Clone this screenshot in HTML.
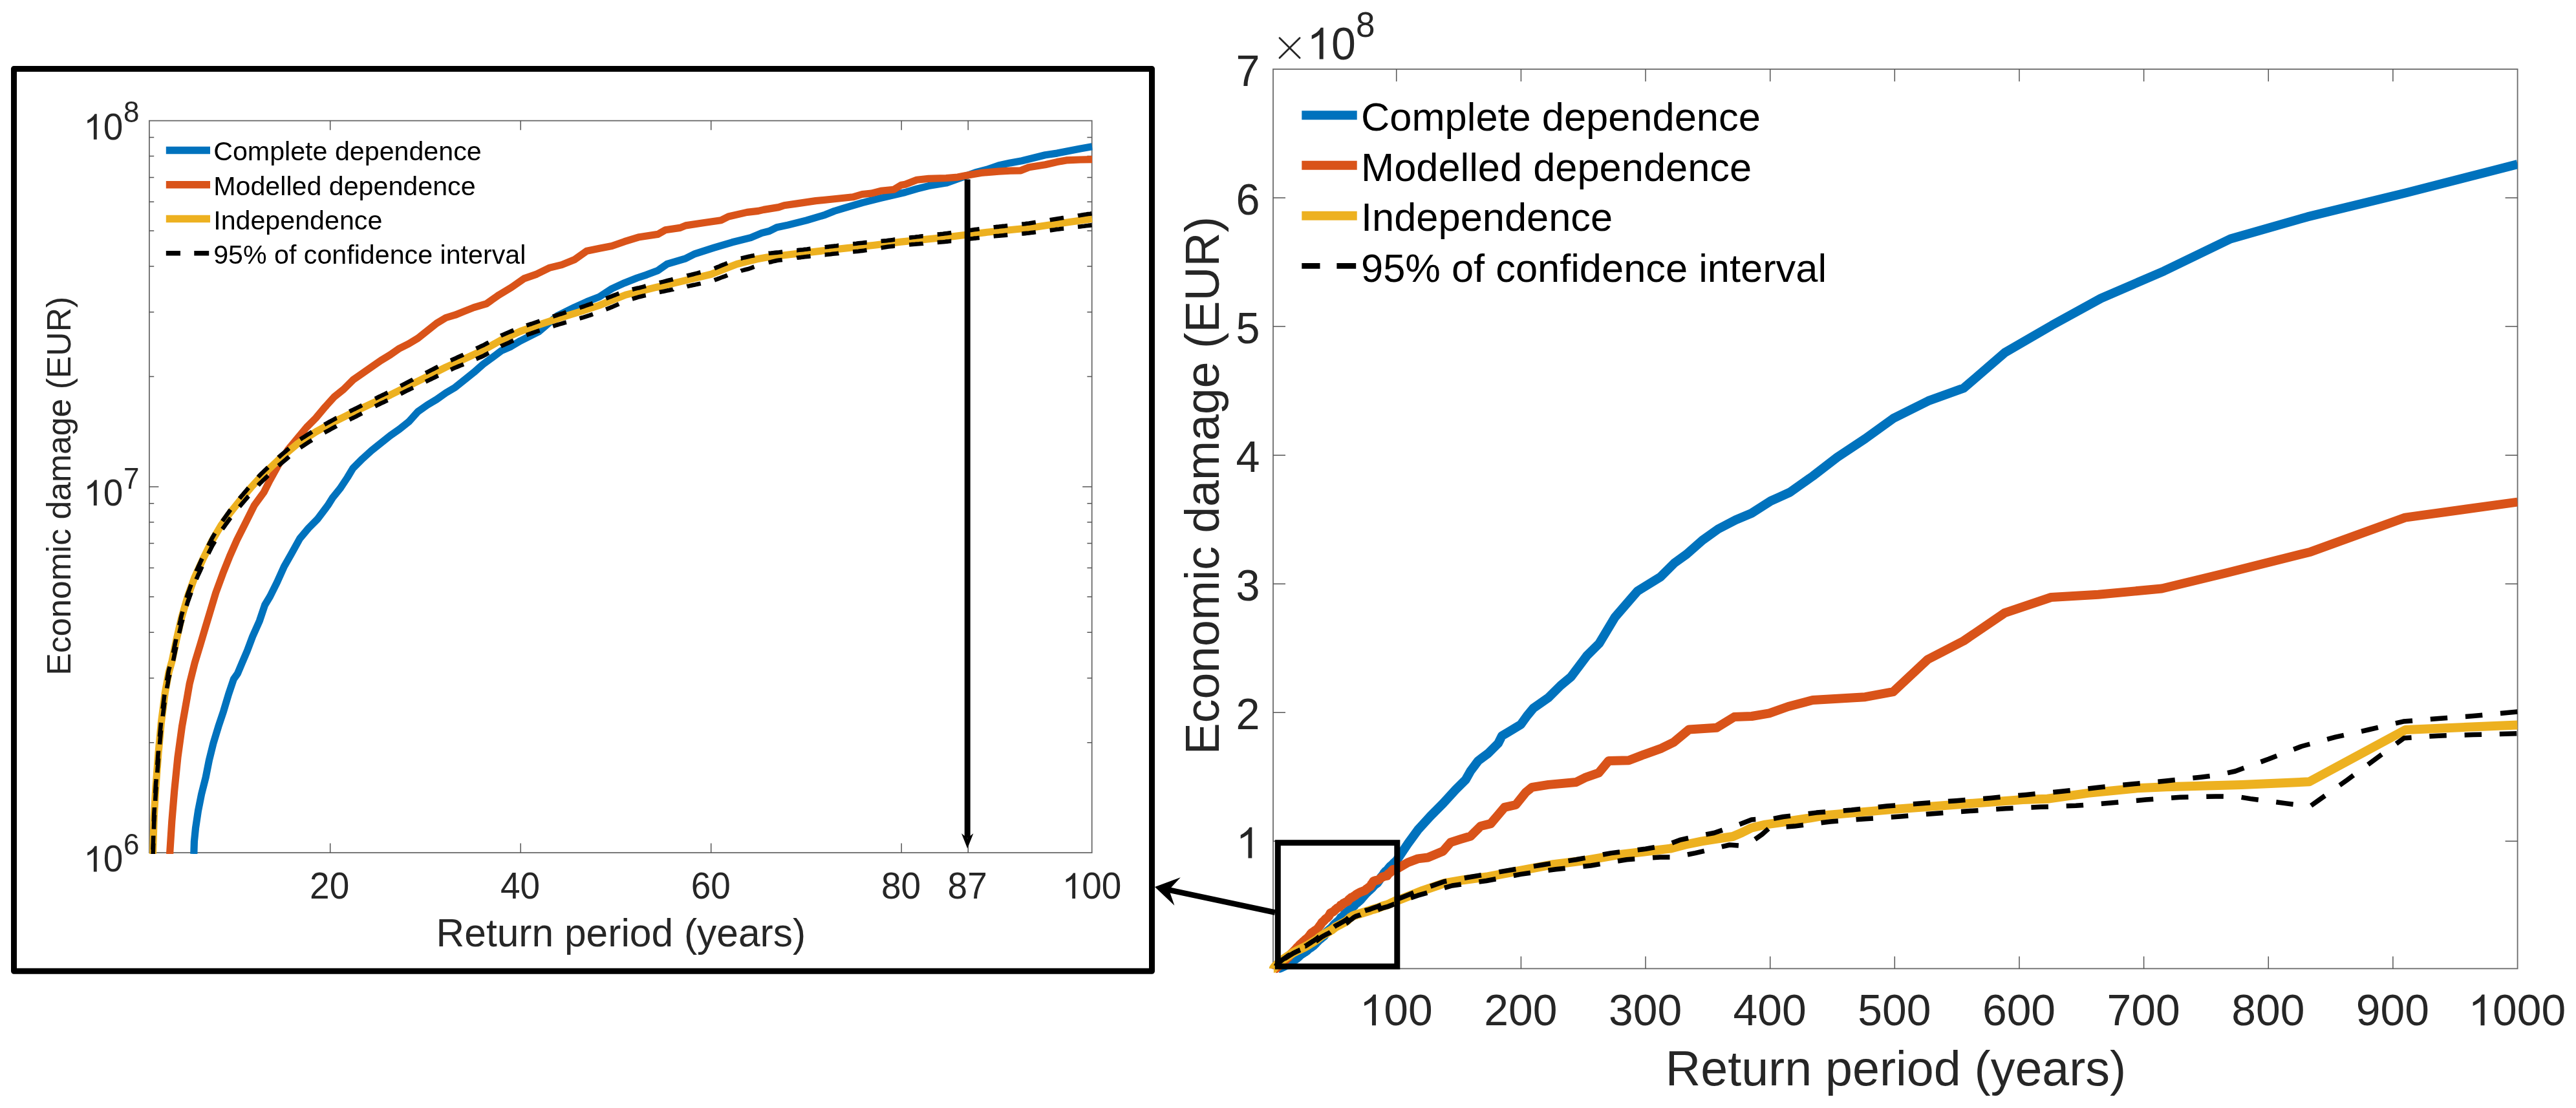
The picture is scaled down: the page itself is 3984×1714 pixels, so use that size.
<!DOCTYPE html><html><head><meta charset="utf-8"><title>Figure</title>
<style>html,body{margin:0;padding:0;background:#fff}svg{display:block;will-change:transform}text{font-family:"Liberation Sans",sans-serif}</style></head><body>
<svg width="3984" height="1714" viewBox="0 0 3984 1714">
<rect width="3984" height="1714" fill="#fff"/>
<defs><clipPath id="cl"><rect x="230.9" y="184.7" width="1458.8" height="1136.4"/></clipPath>
<clipPath id="cr"><rect x="1957.0" y="107.0" width="1936.6" height="1403.4"/></clipPath></defs>
<rect x="21.5" y="106.5" width="1760" height="1395.8" fill="none" stroke="#000" stroke-width="9" stroke-linejoin="round"/>
<g fill="none">
<rect x="230.9" y="186.7" width="1457.8" height="1132.4" stroke="#6a6a6a" stroke-width="1.8"/>
<path d="M510.7 1319.1v-14.5M510.7 186.7v14.5M805.2 1319.1v-14.5M805.2 186.7v14.5M1099.7 1319.1v-14.5M1099.7 186.7v14.5M1394.2 1319.1v-14.5M1394.2 186.7v14.5M1497.3 1319.1v-14.5M1497.3 186.7v14.5M230.9 1148.7h7.3M1688.7 1148.7h-7.3M230.9 1049.0h7.3M1688.7 1049.0h-7.3M230.9 978.2h7.3M1688.7 978.2h-7.3M230.9 923.3h7.3M1688.7 923.3h-7.3M230.9 878.5h7.3M1688.7 878.5h-7.3M230.9 840.6h7.3M1688.7 840.6h-7.3M230.9 807.8h7.3M1688.7 807.8h-7.3M230.9 778.8h7.3M1688.7 778.8h-7.3M230.9 752.9h14.5M1688.7 752.9h-14.5M230.9 582.5h7.3M1688.7 582.5h-7.3M230.9 482.8h7.3M1688.7 482.8h-7.3M230.9 412.0h7.3M1688.7 412.0h-7.3M230.9 357.1h7.3M1688.7 357.1h-7.3M230.9 312.3h7.3M1688.7 312.3h-7.3M230.9 274.4h7.3M1688.7 274.4h-7.3M230.9 241.6h7.3M1688.7 241.6h-7.3M230.9 212.6h7.3M1688.7 212.6h-7.3" stroke="#555555" stroke-width="1.5"/>
</g>
<g clip-path="url(#cl)" fill="none" stroke-linejoin="round">
<path d="M299.8 1321.0 L300.4 1301.8 L302.5 1280.9 L306.4 1254.7 L311.6 1228.5 L318.2 1202.3 L323.4 1176.1 L329.9 1149.9 L337.8 1123.8 L345.7 1100.2 L353.5 1074.0 L361.4 1050.5 L367.6 1041.7 L374.4 1025.4 L382.5 1006.4 L390.6 984.8 L401.4 960.4 L409.6 936.0 L417.7 922.5 L428.5 900.8 L439.4 876.5 L450.2 857.5 L463.7 833.1 L477.3 816.9 L490.8 803.3 L507.1 781.7 L514.4 770.1 L525.9 755.8 L537.4 738.5 L546.0 724.2 L560.4 709.8 L574.7 696.9 L589.1 685.4 L603.5 673.9 L617.8 663.9 L632.2 652.4 L646.5 636.6 L660.9 626.5 L675.3 617.9 L689.6 607.8 L704.0 599.2 L718.4 587.7 L732.7 576.2 L747.1 563.5 L761.5 553.0 L775.8 542.3 L790.2 536.0 L804.5 527.4 L833.3 513.0 L862.0 488.6 L888.2 475.6 L907.6 466.8 L927.0 459.1 L946.4 446.5 L965.8 437.7 L985.2 430.0 L1000.0 425.1 L1017.5 418.4 L1031.8 408.4 L1060.5 399.8 L1074.9 392.6 L1103.6 383.4 L1132.4 374.8 L1161.1 367.6 L1178.3 360.4 L1189.8 357.5 L1201.3 351.8 L1218.5 348.1 L1247.3 340.9 L1276.0 332.3 L1290.4 326.5 L1304.7 322.2 L1333.5 313.6 L1362.2 306.4 L1400.0 297.5 L1418.0 292.1 L1436.1 287.6 L1463.2 283.1 L1481.2 276.8 L1508.3 266.9 L1526.4 262.3 L1544.4 256.0 L1562.5 251.9 L1580.5 248.8 L1598.6 244.3 L1616.6 239.8 L1634.7 237.1 L1652.7 233.5 L1670.8 229.9 L1689.0 226.8" stroke="#0072BD" stroke-width="11.2"/>
<path d="M262.7 1321.0 L262.7 1318.8 L265.8 1270.4 L269.7 1223.2 L275.0 1170.9 L281.5 1123.8 L289.4 1079.3 L293.1 1057.9 L301.2 1025.4 L309.4 998.3 L317.5 971.2 L325.6 944.2 L333.7 917.1 L344.6 887.3 L355.4 860.2 L366.2 835.8 L379.8 808.7 L393.3 781.7 L408.1 761.5 L416.7 744.3 L431.1 718.4 L445.5 695.5 L459.8 678.2 L474.2 661.0 L488.5 646.6 L502.9 629.4 L517.3 613.6 L531.6 602.1 L546.0 587.7 L560.4 577.7 L574.7 567.6 L589.1 557.6 L603.5 548.9 L617.8 538.9 L632.2 531.7 L646.5 523.1 L660.9 511.6 L675.3 500.1 L689.6 491.5 L704.0 487.2 L718.4 481.4 L732.9 475.6 L752.3 469.8 L771.7 456.2 L791.1 444.5 L810.6 430.9 L830.0 424.1 L849.4 414.4 L868.8 409.6 L888.2 401.8 L907.6 388.2 L927.0 384.3 L946.4 380.5 L965.8 373.7 L988.7 366.7 L1017.5 362.4 L1028.9 355.8 L1051.9 352.4 L1060.5 348.9 L1089.3 344.5 L1115.1 340.7 L1126.6 335.0 L1155.3 328.4 L1172.6 326.4 L1181.2 324.4 L1204.2 320.6 L1212.8 317.8 L1232.9 314.9 L1261.6 310.6 L1290.4 307.7 L1319.1 304.8 L1333.5 300.5 L1347.8 299.1 L1362.2 295.3 L1382.3 293.3 L1393.8 286.2 L1400.0 285.3 L1418.0 278.2 L1436.1 276.4 L1463.2 275.5 L1481.2 274.1 L1493.9 271.4 L1517.3 267.4 L1544.4 265.1 L1562.5 264.2 L1578.7 263.8 L1591.3 258.7 L1616.6 254.8 L1634.7 250.6 L1649.1 247.9 L1670.8 247.0 L1689.0 246.6" stroke="#D95319" stroke-width="11.2"/>
<path d="M236.3 1336.0 L236.5 1321.0 L236.5 1318.8 L238.3 1262.5 L240.9 1218.0 L244.9 1165.7 L249.3 1118.5 L255.3 1071.4 L261.1 1040.0 L266.0 1022.7 L272.8 990.2 L280.9 955.0 L290.4 922.5 L301.2 892.7 L314.8 862.9 L328.3 835.8 L341.9 812.8 L355.4 793.9 L371.7 773.5 L388.0 754.3 L402.4 738.5 L431.1 711.1 L459.8 686.7 L488.5 668.0 L517.3 652.2 L546.0 637.9 L574.7 624.2 L603.5 611.1 L632.2 596.8 L660.9 582.4 L689.6 568.0 L718.4 555.1 L747.1 541.9 L775.8 525.6 L804.5 512.6 L833.3 502.5 L862.0 493.0 L899.3 481.5 L927.1 472.2 L967.7 456.1 L1012.8 444.9 L1053.4 435.4 L1100.0 424.2 L1124.2 414.5 L1139.8 408.5 L1155.3 404.5 L1170.8 400.7 L1186.3 398.0 L1223.2 393.5 L1266.6 388.6 L1308.9 383.9 L1352.3 379.2 L1393.3 374.1 L1461.4 367.3 L1526.4 359.2 L1591.3 352.7 L1634.7 346.2 L1689.0 338.5" stroke="#EDB120" stroke-width="11.2"/>
<path d="M236.5 1314.4 L236.6 1312.0 L236.7 1308.8 L236.8 1305.7 L236.9 1302.6 L237.0 1299.5 L237.1 1296.3 L237.2 1293.2 L237.2 1292.7M237.9 1270.6 L238.0 1268.2 L238.1 1265.0 L238.2 1261.9 L238.3 1258.8 L238.5 1255.6 L238.7 1252.4 L238.9 1249.3 L238.9 1248.9M240.2 1226.9 L240.3 1223.8 L240.5 1220.6 L240.7 1217.5 L240.9 1214.3 L241.1 1211.2 L241.4 1208.1 L241.6 1205.2M243.3 1183.2 L243.5 1180.4 L243.7 1177.4 L244.0 1174.3 L244.2 1171.2 L244.4 1168.1 L244.7 1165.1 L244.9 1162.0 L244.9 1161.5M247.0 1139.5 L247.2 1136.8 L247.5 1133.7 L247.8 1130.5 L248.1 1127.4 L248.4 1124.2 L248.7 1121.1 L249.0 1117.9M251.7 1096.0 L251.7 1095.9 L252.1 1092.8 L252.5 1089.6 L252.9 1086.5 L253.3 1083.4 L253.7 1080.2 L254.1 1077.1 L254.4 1074.5M258.1 1052.7 L258.2 1052.0 L258.8 1048.8 L259.4 1045.7 L259.9 1042.5 L260.5 1039.4 L261.1 1036.3 L262.1 1032.8 L262.5 1031.4M267.9 1010.0 L268.5 1007.1 L269.1 1004.2 L269.7 1001.2 L270.3 998.3 L270.9 995.3 L271.6 992.3 L272.2 989.4 L272.3 988.7M277.2 967.2 L277.5 965.9 L278.2 963.0 L278.9 960.0 L279.5 957.1 L280.2 954.2 L280.9 951.2 L281.8 948.3 L282.4 946.1M288.6 924.9 L288.7 924.6 L289.5 921.7 L290.4 918.7 L291.5 915.7 L292.6 912.8 L293.6 909.8 L294.7 906.8 L295.6 904.4M303.6 883.7 L303.9 882.9 L305.3 880.0 L306.6 877.0 L308.0 874.0 L309.4 871.0 L310.7 868.0 L312.1 865.0 L312.6 864.0M322.3 844.1 L322.9 842.8 L324.2 840.1 L325.6 837.4 L326.9 834.7 L328.3 832.0 L330.0 829.1 L331.7 826.2 L332.4 825.0M343.9 806.1 L345.8 803.5 L347.7 800.8 L349.6 798.1 L351.5 795.4 L353.5 792.7 L355.4 790.0 L356.6 788.5M370.4 771.2 L371.7 769.6 L373.7 767.2 L375.8 764.8 L377.8 762.4 L379.9 760.0 L381.9 757.6 L383.9 755.2 L384.4 754.6M399.2 738.1 L400.3 736.8 L402.4 734.6 L404.6 732.4 L406.8 730.3 L409.0 728.2 L411.2 726.1 L413.4 724.0 L414.6 722.9M430.6 707.6 L431.1 707.1 L433.5 705.1 L435.9 703.0 L438.3 701.0 L440.7 699.0 L443.1 696.9 L445.5 694.9 L447.1 693.5M464.4 679.7 L465.0 679.3 L467.6 677.6 L470.2 675.9 L472.8 674.2 L475.5 672.5 L478.1 670.9 L480.7 669.2 L482.6 667.9M501.7 656.9 L502.9 656.2 L505.8 654.6 L508.7 653.0 L511.5 651.5 L514.4 649.9 L517.3 648.3 L520.2 646.8 L520.8 646.6M540.5 636.6 L543.1 635.3 L546.0 633.9 L548.9 632.5 L551.7 631.1 L554.6 629.6 L557.5 628.2 L559.9 626.9M580.1 616.8 L580.5 616.6 L583.3 615.2 L586.2 613.8 L589.1 612.4 L592.0 611.0 L594.9 609.6 L597.7 608.2 L599.6 607.3M619.5 597.1 L620.7 596.4 L623.6 594.9 L626.5 593.4 L629.3 591.9 L632.2 590.4 L635.1 588.9 L637.9 587.5 L638.7 587.0M658.2 577.0 L660.9 575.6 L663.8 574.1 L666.6 572.6 L669.5 571.2 L672.4 569.7 L675.2 568.3 L677.5 567.1M697.0 557.6 L698.2 557.1 L701.1 555.8 L704.0 554.5 L706.9 553.1 L709.8 551.8 L712.6 550.5 L715.5 549.2 L716.7 548.6M736.4 539.3 L738.5 538.3 L741.4 536.9 L744.2 535.6 L747.1 534.3 L749.7 532.9 L752.3 531.5 L754.9 530.1 L755.8 529.6M774.5 519.4 L775.8 518.7 L778.7 517.5 L781.5 516.3 L784.4 515.0 L787.3 513.8 L790.1 512.6 L793.0 511.4 L794.4 510.8M814.2 503.4 L816.0 502.8 L818.9 501.9 L821.8 501.0 L824.7 500.0 L827.5 499.0 L830.4 498.0 L833.3 497.0 L834.7 496.5M855.1 489.6 L856.3 489.2 L859.1 488.3 L862.0 487.3 L864.9 486.4 L867.7 485.5 L870.6 484.6 L873.5 483.6 L875.7 482.9M896.4 476.1 L896.4 476.1 L899.3 475.2 L902.4 474.1 L905.5 473.0 L908.6 471.9 L911.7 470.9 L914.7 469.9 L916.9 469.1M937.2 461.8 L938.7 461.2 L941.6 460.0 L944.5 458.9 L947.4 457.7 L950.3 456.6 L953.2 455.5 L956.1 454.4 L957.4 453.9M977.8 447.7 L979.7 447.2 L982.7 446.5 L985.7 445.8 L988.7 445.2 L991.8 444.4 L994.8 443.6 L997.8 442.8 L998.9 442.5M1019.8 437.2 L1022.2 436.6 L1025.3 435.9 L1028.4 435.1 L1031.5 434.3 L1034.7 433.5 L1037.8 432.8 L1040.9 432.0M1062.4 426.6 L1062.7 426.5 L1065.8 425.7 L1068.9 425.0 L1072.0 424.2 L1075.1 423.4 L1078.3 422.6 L1081.4 421.8 L1083.5 421.3M1104.8 415.2 L1106.0 414.7 L1109.1 413.4 L1112.1 412.2 L1115.1 410.9 L1118.2 409.7 L1121.2 408.5 L1124.2 407.2 L1124.9 406.9M1145.8 399.7 L1146.0 399.7 L1149.1 398.9 L1152.2 398.2 L1155.3 397.5 L1158.4 396.8 L1161.5 396.1 L1164.6 395.5 L1166.9 395.0M1188.6 391.8 L1189.4 391.7 L1192.5 391.5 L1195.5 391.2 L1198.6 390.9 L1201.7 390.6 L1204.8 390.3 L1207.8 389.9 L1210.2 389.7M1232.1 387.2 L1232.5 387.2 L1235.6 386.8 L1238.7 386.5 L1241.8 386.2 L1244.9 385.8 L1248.0 385.5 L1251.1 385.1 L1253.6 384.8M1275.6 382.3 L1275.7 382.3 L1278.7 381.9 L1281.7 381.6 L1284.7 381.2 L1287.8 380.9 L1290.8 380.5 L1293.8 380.2 L1296.8 379.8 L1297.1 379.8M1319.1 377.2 L1321.3 377.0 L1324.4 376.7 L1327.5 376.3 L1330.6 376.0 L1333.7 375.7 L1336.8 375.4 L1339.9 375.1 L1340.7 375.1M1362.6 373.0 L1364.9 372.8 L1368.1 372.5 L1371.2 372.2 L1374.4 371.8 L1377.5 371.4 L1380.7 371.0 L1383.8 370.5 L1384.2 370.5M1406.1 367.7 L1408.8 367.4 L1411.9 367.0 L1415.0 366.7 L1418.1 366.3 L1421.2 366.0 L1424.3 365.6 L1427.3 365.2 L1427.7 365.2M1449.7 362.6 L1452.1 362.4 L1455.2 362.0 L1458.3 361.7 L1461.4 361.3 L1464.5 360.9 L1467.6 360.5 L1470.7 360.1 L1471.3 360.0M1493.2 357.0 L1495.4 356.7 L1498.5 356.3 L1501.6 355.9 L1504.7 355.5 L1507.8 355.1 L1510.9 354.7 L1514.0 354.3 L1514.7 354.2M1536.7 351.5 L1538.8 351.2 L1541.9 350.9 L1544.9 350.6 L1548.0 350.2 L1551.1 349.9 L1554.2 349.6 L1557.3 349.2 L1558.3 349.1M1580.3 346.7 L1582.0 346.5 L1585.1 346.2 L1588.2 345.8 L1591.3 345.5 L1594.4 345.0 L1597.5 344.5 L1600.6 344.0 L1601.8 343.8M1623.7 340.3 L1625.4 340.0 L1628.5 339.5 L1631.6 339.0 L1634.7 338.5 L1637.7 338.0 L1640.7 337.6 L1643.8 337.1 L1645.1 336.9M1667.0 333.6 L1667.9 333.4 L1670.9 333.0 L1673.9 332.5 L1676.9 332.0 L1680.0 331.6 L1683.0 331.1 L1686.0 330.7 L1688.5 330.3M1689.0 330.2 L1689.0 330.2" stroke="#000" stroke-width="6.6"/>
<path d="M236.5 1326.4 L236.6 1324.0 L236.7 1320.9 L236.8 1317.7 L236.9 1314.6 L237.0 1311.5 L237.1 1308.4 L237.2 1305.2 L237.2 1304.7M237.9 1282.6 L238.0 1280.2 L238.1 1277.1 L238.2 1274.0 L238.3 1270.8 L238.5 1267.6 L238.7 1264.5 L238.9 1261.3 L238.9 1261.0M240.2 1238.9 L240.3 1235.9 L240.5 1232.7 L240.7 1229.5 L240.9 1226.3 L241.1 1223.3 L241.4 1220.2 L241.6 1217.3M243.3 1195.2 L243.5 1192.5 L243.7 1189.4 L244.0 1186.4 L244.2 1183.3 L244.4 1180.2 L244.7 1177.1 L244.9 1174.0 L244.9 1173.6M247.0 1151.6 L247.2 1148.9 L247.5 1145.7 L247.8 1142.6 L248.1 1139.4 L248.4 1136.3 L248.7 1133.2 L249.0 1130.0 L249.0 1130.0M251.7 1108.1 L251.7 1108.0 L252.1 1104.9 L252.5 1101.8 L252.9 1098.6 L253.3 1095.5 L253.7 1092.3 L254.1 1089.2 L254.4 1086.6M258.1 1064.8 L258.2 1064.1 L258.8 1061.0 L259.4 1057.8 L259.9 1054.7 L260.5 1051.5 L261.1 1048.4 L262.1 1044.9 L262.5 1043.6M267.9 1022.2 L268.5 1019.3 L269.1 1016.4 L269.7 1013.4 L270.3 1010.5 L270.9 1007.5 L271.6 1004.5 L272.2 1001.6 L272.3 1000.9M277.2 979.4 L277.5 978.1 L278.2 975.2 L278.9 972.3 L279.5 969.3 L280.2 966.4 L280.9 963.5 L281.8 960.5 L282.4 958.3M288.6 937.2 L288.7 936.9 L289.5 934.0 L290.4 931.0 L291.5 928.0 L292.6 925.0 L293.6 922.1 L294.7 919.1 L295.6 916.6M303.6 896.1 L303.9 895.3 L305.3 892.3 L306.6 889.3 L308.0 886.4 L309.4 883.4 L310.7 880.4 L312.1 877.4 L312.6 876.3M322.3 856.5 L322.9 855.2 L324.2 852.5 L325.6 849.8 L326.9 847.1 L328.3 844.4 L330.0 841.6 L331.7 838.7 L332.5 837.4M343.9 818.6 L345.8 816.1 L347.7 813.4 L349.6 810.7 L351.5 808.0 L353.5 805.3 L355.4 802.6 L356.7 801.0M370.4 783.8 L371.7 782.3 L373.7 779.9 L375.8 777.5 L377.8 775.1 L379.9 772.7 L381.9 770.3 L383.9 767.9 L384.5 767.3M399.2 750.9 L400.3 749.6 L402.4 747.4 L404.6 745.3 L406.8 743.2 L409.0 741.1 L411.2 739.0 L413.4 736.9 L414.7 735.7M430.6 720.5 L431.1 720.1 L433.5 718.0 L435.9 716.0 L438.3 714.0 L440.7 712.0 L443.1 709.9 L445.5 707.9 L447.1 706.4M464.4 692.6 L465.0 692.2 L467.6 690.4 L470.2 688.7 L472.8 687.0 L475.5 685.3 L478.1 683.6 L480.7 681.9 L482.5 680.7M501.7 669.4 L502.9 668.7 L505.8 667.1 L508.7 665.6 L511.5 664.0 L514.4 662.4 L517.3 660.8 L520.2 659.4 L520.7 659.1M540.5 649.2 L543.1 647.9 L546.0 646.5 L548.9 645.1 L551.7 643.7 L554.6 642.1 L557.5 640.6 L559.9 639.3M580.1 628.6 L580.5 628.4 L583.3 626.9 L586.2 625.5 L589.1 624.0 L592.0 622.7 L594.9 621.4 L597.7 620.0 L599.6 619.2M619.5 609.3 L620.7 608.7 L623.6 607.2 L626.5 605.8 L629.3 604.4 L632.2 603.0 L635.1 601.6 L637.9 600.3 L639.0 599.8M658.2 590.6 L660.9 589.3 L663.8 587.9 L666.6 586.5 L669.5 585.1 L672.4 583.7 L675.2 582.3 L677.7 581.1M697.0 571.9 L698.2 571.4 L701.1 570.1 L704.0 568.8 L706.9 567.6 L709.8 566.4 L712.6 565.3 L715.5 564.1 L717.0 563.5M736.4 555.4 L738.5 554.5 L741.4 553.3 L744.2 552.1 L747.1 550.8 L749.7 549.4 L752.3 548.0 L754.9 546.5 L755.9 546.0M774.5 535.7 L775.8 535.0 L778.7 533.7 L781.5 532.5 L784.4 531.2 L787.3 529.9 L790.1 528.6 L793.0 527.2 L794.2 526.7M814.2 518.4 L816.0 517.7 L818.9 516.7 L821.8 515.7 L824.7 514.6 L827.5 513.7 L830.4 512.7 L833.3 511.7 L834.7 511.3M855.1 504.7 L856.3 504.3 L859.1 503.4 L862.0 502.5 L864.9 501.6 L867.7 500.8 L870.6 500.0 L873.5 499.1 L875.9 498.5M896.4 492.6 L896.4 492.6 L899.3 491.8 L902.4 490.9 L905.5 489.9 L908.6 488.9 L911.7 487.9 L914.7 486.8 L917.0 486.0M937.2 478.6 L938.7 478.0 L941.6 476.9 L944.5 475.7 L947.4 474.6 L950.3 473.3 L953.2 472.0 L956.1 470.7 L957.2 470.2M977.8 462.5 L979.7 461.9 L982.7 461.0 L985.7 460.1 L988.7 459.2 L991.8 458.5 L994.8 457.8 L997.8 457.1 L998.8 456.9M1019.8 452.1 L1022.2 451.6 L1025.3 450.9 L1028.4 450.3 L1031.5 449.6 L1034.7 449.0 L1037.8 448.3 L1040.9 447.7 L1041.0 447.6M1062.4 443.1 L1062.7 443.0 L1065.8 442.4 L1068.9 441.7 L1072.0 441.0 L1075.1 440.4 L1078.3 439.7 L1081.4 439.1 L1083.7 438.6M1104.8 433.4 L1106.0 432.9 L1109.1 431.8 L1112.1 430.7 L1115.1 429.5 L1118.2 428.4 L1121.2 427.3 L1124.2 426.2 L1125.1 425.8M1145.8 419.0 L1146.0 418.9 L1149.1 418.1 L1152.2 417.3 L1155.3 416.5 L1158.4 415.7 L1161.5 414.6 L1164.6 413.4 L1166.5 412.7M1188.6 406.1 L1189.4 405.9 L1192.5 405.2 L1195.5 404.4 L1198.6 403.7 L1201.7 403.0 L1204.8 402.6 L1207.8 402.2 L1209.8 401.9M1232.1 398.9 L1232.5 398.8 L1235.6 398.4 L1238.7 398.1 L1241.8 397.7 L1244.9 397.3 L1248.0 396.9 L1251.1 396.6 L1253.6 396.3M1275.6 394.1 L1275.7 394.1 L1278.7 393.8 L1281.7 393.5 L1284.7 393.2 L1287.8 392.8 L1290.8 392.5 L1293.8 392.2 L1296.8 391.9 L1297.2 391.8M1319.1 389.5 L1321.3 389.3 L1324.4 389.0 L1327.5 388.7 L1330.6 388.3 L1333.7 387.9 L1336.8 387.5 L1339.9 387.0 L1340.6 386.9M1362.6 383.5 L1364.9 383.1 L1368.1 382.6 L1371.2 382.1 L1374.4 381.6 L1377.5 381.2 L1380.7 380.9 L1383.8 380.5 L1384.1 380.5M1406.1 378.5 L1408.8 378.3 L1411.9 378.0 L1415.0 377.8 L1418.1 377.5 L1421.2 377.3 L1424.3 377.0 L1427.3 376.8 L1427.8 376.7M1449.7 375.0 L1452.1 374.8 L1455.2 374.5 L1458.3 374.3 L1461.4 374.0 L1464.5 373.6 L1467.6 373.3 L1470.7 372.9 L1471.3 372.9M1493.2 370.3 L1495.4 370.0 L1498.5 369.7 L1501.6 369.3 L1504.7 369.0 L1507.8 368.6 L1510.9 368.3 L1514.0 367.9 L1514.8 367.8M1536.7 365.5 L1538.8 365.3 L1541.9 365.0 L1544.9 364.8 L1548.0 364.5 L1551.1 364.2 L1554.2 363.9 L1557.3 363.6 L1558.3 363.5M1580.3 361.5 L1582.0 361.4 L1585.1 361.1 L1588.2 360.8 L1591.3 360.5 L1594.4 360.1 L1597.5 359.7 L1600.6 359.3 L1601.9 359.1M1623.7 356.3 L1625.4 356.1 L1628.5 355.7 L1631.6 355.3 L1634.7 354.8 L1637.7 354.5 L1640.7 354.1 L1643.8 353.7 L1645.2 353.6M1667.0 350.9 L1667.9 350.8 L1670.9 350.4 L1673.9 350.0 L1676.9 349.7 L1680.0 349.3 L1683.0 348.9 L1686.0 348.6 L1688.6 348.3M1689.0 348.2 L1689.0 348.2" stroke="#000" stroke-width="6.6"/>
</g>
<text transform="translate(479.11 1390.00) scale(1.0000 1.0350)" font-size="55.0" text-anchor="start" fill="#262626">2</text>
<text transform="translate(509.70 1390.00) scale(1.0000 1.0350)" font-size="55.0" text-anchor="start" fill="#262626">0</text>
<text transform="translate(774.01 1390.00) scale(1.0000 1.0350)" font-size="55.0" text-anchor="start" fill="#262626">4</text>
<text transform="translate(804.60 1390.00) scale(1.0000 1.0350)" font-size="55.0" text-anchor="start" fill="#262626">0</text>
<text transform="translate(1068.71 1390.00) scale(1.0000 1.0350)" font-size="55.0" text-anchor="start" fill="#262626">6</text>
<text transform="translate(1099.30 1390.00) scale(1.0000 1.0350)" font-size="55.0" text-anchor="start" fill="#262626">0</text>
<text transform="translate(1363.01 1390.00) scale(1.0000 1.0350)" font-size="55.0" text-anchor="start" fill="#262626">8</text>
<text transform="translate(1393.60 1390.00) scale(1.0000 1.0350)" font-size="55.0" text-anchor="start" fill="#262626">0</text>
<text transform="translate(1465.61 1390.00) scale(1.0000 1.0350)" font-size="55.0" text-anchor="start" fill="#262626">8</text>
<text transform="translate(1496.20 1390.00) scale(1.0000 1.0350)" font-size="55.0" text-anchor="start" fill="#262626">7</text>
<path d="M763 0H583V1147Q518 1085 412.5 1023Q307 961 223 930V1104Q374 1175 487 1276Q600 1377 647 1472H763Z" fill="#262626" transform="translate(1642.61 1390.00) scale(0.02686 -0.02686)"/>
<text transform="translate(1673.20 1390.00) scale(1.0000 1.0350)" font-size="55.0" text-anchor="start" fill="#262626">0</text>
<text transform="translate(1703.80 1390.00) scale(1.0000 1.0350)" font-size="55.0" text-anchor="start" fill="#262626">0</text>
<path d="M763 0H583V1147Q518 1085 412.5 1023Q307 961 223 930V1104Q374 1175 487 1276Q600 1377 647 1472H763Z" fill="#262626" transform="translate(129.22 215.70) scale(0.02686 -0.02686)"/>
<text transform="translate(159.81 215.70) scale(1.0000 1.0350)" font-size="55.0" text-anchor="start" fill="#262626">0</text>
<text transform="translate(191.00 189.40) scale(1.0000 1.0350)" font-size="44.0" text-anchor="start" fill="#262626">8</text>
<path d="M763 0H583V1147Q518 1085 412.5 1023Q307 961 223 930V1104Q374 1175 487 1276Q600 1377 647 1472H763Z" fill="#262626" transform="translate(129.22 782.00) scale(0.02686 -0.02686)"/>
<text transform="translate(159.81 782.00) scale(1.0000 1.0350)" font-size="55.0" text-anchor="start" fill="#262626">0</text>
<text transform="translate(191.00 755.70) scale(1.0000 1.0350)" font-size="44.0" text-anchor="start" fill="#262626">7</text>
<path d="M763 0H583V1147Q518 1085 412.5 1023Q307 961 223 930V1104Q374 1175 487 1276Q600 1377 647 1472H763Z" fill="#262626" transform="translate(129.22 1348.40) scale(0.02686 -0.02686)"/>
<text transform="translate(159.81 1348.40) scale(1.0000 1.0350)" font-size="55.0" text-anchor="start" fill="#262626">0</text>
<text transform="translate(191.00 1322.10) scale(1.0000 1.0350)" font-size="44.0" text-anchor="start" fill="#262626">6</text>
<text transform="translate(960.35 1464.10)" font-size="60.5" text-anchor="middle" fill="#262626">Return period (years)</text>
<text transform="translate(108.80 751.80) rotate(-90)" font-size="51.7" text-anchor="middle" fill="#262626">Economic damage (EUR)</text>
<path d="M256.8 232.6H325" stroke="#0072BD" stroke-width="11.5" fill="none"/>
<text transform="translate(330.20 248.20)" font-size="41.2" text-anchor="start" fill="#000">Complete dependence</text>
<path d="M256.8 285.7H325" stroke="#D95319" stroke-width="11.5" fill="none"/>
<text transform="translate(330.20 301.80)" font-size="41.2" text-anchor="start" fill="#000">Modelled dependence</text>
<path d="M256.8 338.4H325" stroke="#EDB120" stroke-width="11.5" fill="none"/>
<text transform="translate(330.20 354.50)" font-size="41.2" text-anchor="start" fill="#000">Independence</text>
<path d="M256.8 391.7H279M300.3 391.7H323.2" stroke="#000" stroke-width="7.5" fill="none"/>
<text transform="translate(330.20 407.80)" font-size="41.2" text-anchor="start" fill="#000">95% of confidence interval</text>
<path d="M1496.2 277.5V1296" stroke="#000" stroke-width="9" fill="none"/>
<path d="M1496.2 1312.6L1487 1289.2L1496.2 1296.5L1505.4 1289.2Z" fill="#000"/>
<g fill="none">
<rect x="1969.0" y="107.0" width="1924.6" height="1391.4" stroke="#6a6a6a" stroke-width="1.8"/>
<path d="M2159.7 1498.4v-19M2159.7 107.0v19M2352.4 1498.4v-19M2352.4 107.0v19M2545.0 1498.4v-19M2545.0 107.0v19M2737.7 1498.4v-19M2737.7 107.0v19M2930.3 1498.4v-19M2930.3 107.0v19M3123.0 1498.4v-19M3123.0 107.0v19M3315.6 1498.4v-19M3315.6 107.0v19M3508.3 1498.4v-19M3508.3 107.0v19M3700.9 1498.4v-19M3700.9 107.0v19M1969.0 1301.3h19M3893.6 1301.3h-19M1969.0 1102.3h19M3893.6 1102.3h-19M1969.0 903.2h19M3893.6 903.2h-19M1969.0 704.2h19M3893.6 704.2h-19M1969.0 505.1h19M3893.6 505.1h-19M1969.0 306.1h19M3893.6 306.1h-19" stroke="#555555" stroke-width="1.5"/>
</g>
<g clip-path="url(#cr)" fill="none" stroke-linejoin="round">
<path d="M1978.0 1498.4 L1978.1 1498.3 L1978.1 1498.3 L1978.2 1498.2 L1978.3 1498.1 L1978.4 1498.1 L1978.5 1498.0 L1978.6 1497.9 L1978.8 1497.9 L1978.9 1497.8 L1979.0 1497.7 L1979.2 1497.7 L1979.4 1497.6 L1979.6 1497.5 L1979.8 1497.4 L1980.0 1497.4 L1980.2 1497.3 L1980.4 1497.2 L1980.6 1497.1 L1980.8 1497.0 L1980.9 1496.9 L1981.1 1496.8 L1981.3 1496.7 L1981.5 1496.6 L1981.7 1496.5 L1982.0 1496.4 L1982.2 1496.3 L1982.5 1496.2 L1982.7 1496.1 L1983.0 1496.0 L1983.2 1495.9 L1983.5 1495.8 L1983.8 1495.7 L1984.0 1495.5 L1984.3 1495.4 L1984.5 1495.3 L1984.8 1495.1 L1985.0 1495.0 L1985.3 1494.9 L1985.6 1494.7 L1985.8 1494.6 L1986.1 1494.5 L1986.9 1494.2 L1987.3 1494.0 L1987.8 1493.8 L1988.1 1493.6 L1988.5 1493.5 L1988.8 1493.3 L1989.2 1493.1 L1989.5 1492.9 L1989.9 1492.6 L1990.2 1492.4 L1990.6 1492.2 L1991.0 1492.0 L1991.3 1491.8 L1991.6 1491.6 L1991.8 1491.4 L1992.1 1491.2 L1992.4 1490.9 L1992.9 1490.7 L1993.4 1490.4 L1993.8 1490.2 L1994.1 1490.0 L1994.5 1489.7 L1994.9 1489.5 L1995.2 1489.2 L1995.6 1488.9 L1995.9 1488.6 L1996.3 1488.3 L1996.7 1488.0 L1997.2 1487.7 L1997.7 1487.4 L1998.1 1487.1 L1998.6 1486.7 L1999.0 1486.4 L1999.5 1486.0 L2000.1 1485.7 L2000.6 1485.4 L2001.2 1485.0 L2001.8 1484.8 L2002.4 1484.5 L2003.0 1484.2 L2003.5 1483.8 L2004.1 1483.4 L2004.6 1483.1 L2005.1 1482.7 L2005.6 1482.3 L2006.1 1481.8 L2006.6 1481.5 L2007.1 1481.1 L2007.6 1480.7 L2008.1 1480.3 L2008.6 1479.8 L2009.1 1479.3 L2009.7 1478.7 L2010.2 1478.0 L2010.9 1477.6 L2011.5 1477.1 L2012.1 1476.7 L2012.7 1476.3 L2013.4 1475.8 L2014.0 1475.4 L2014.6 1475.0 L2015.2 1474.6 L2015.9 1474.2 L2016.5 1473.8 L2017.1 1473.4 L2017.7 1472.9 L2018.7 1472.4 L2019.6 1471.8 L2020.2 1471.4 L2020.9 1470.9 L2021.5 1470.4 L2022.1 1469.8 L2022.7 1469.1 L2023.4 1468.4 L2024.3 1467.8 L2025.3 1467.1 L2026.2 1466.5 L2027.1 1465.9 L2028.1 1465.2 L2029.0 1464.5 L2030.0 1463.8 L2030.9 1463.2 L2031.5 1462.6 L2032.2 1462.0 L2032.8 1461.4 L2033.4 1460.8 L2034.0 1460.2 L2034.7 1459.6 L2035.3 1458.8 L2035.9 1458.1 L2036.5 1457.4 L2037.5 1456.5 L2038.4 1455.5 L2039.4 1454.5 L2040.3 1453.5 L2041.2 1452.9 L2042.2 1452.3 L2043.1 1451.5 L2044.0 1450.6 L2044.8 1450.0 L2045.6 1449.4 L2046.3 1448.8 L2047.1 1448.2 L2047.8 1447.6 L2048.4 1446.7 L2049.1 1445.8 L2049.7 1444.9 L2050.3 1444.0 L2050.9 1443.0 L2051.6 1442.1 L2052.4 1441.3 L2053.3 1440.5 L2054.1 1439.7 L2055.0 1438.9 L2055.8 1438.2 L2056.7 1437.4 L2057.5 1436.7 L2058.4 1436.0 L2059.2 1435.3 L2060.1 1434.6 L2060.9 1433.5 L2061.8 1432.4 L2062.6 1431.2 L2063.5 1430.4 L2064.3 1429.5 L2065.1 1428.7 L2066.0 1427.9 L2066.8 1427.2 L2067.7 1426.4 L2068.7 1425.6 L2069.6 1424.9 L2070.4 1424.2 L2071.1 1423.5 L2071.9 1422.8 L2072.8 1421.2 L2073.8 1419.6 L2074.7 1418.9 L2075.7 1418.2 L2076.6 1417.4 L2077.5 1416.7 L2078.5 1415.5 L2079.4 1414.2 L2080.2 1413.6 L2080.9 1412.9 L2081.7 1412.3 L2082.4 1411.6 L2083.2 1410.9 L2083.9 1410.3 L2084.7 1409.7 L2085.4 1409.0 L2086.2 1408.4 L2086.9 1407.8 L2087.9 1407.1 L2088.8 1406.4 L2089.8 1405.7 L2090.7 1405.0 L2091.4 1404.1 L2092.2 1403.1 L2092.9 1402.2 L2094.5 1401.0 L2095.2 1399.8 L2096.0 1398.7 L2097.1 1397.9 L2098.2 1397.1 L2099.2 1396.4 L2100.1 1395.6 L2101.0 1394.8 L2102.0 1394.1 L2102.9 1393.1 L2103.9 1392.2 L2104.8 1391.2 L2105.7 1390.3 L2106.7 1389.0 L2107.6 1387.7 L2108.6 1386.7 L2109.5 1385.7 L2110.2 1384.9 L2111.0 1384.0 L2111.7 1383.2 L2112.5 1382.4 L2113.3 1381.6 L2114.2 1380.7 L2115.1 1379.8 L2116.1 1378.9 L2117.0 1378.1 L2117.8 1377.3 L2118.7 1376.6 L2119.5 1375.8 L2120.3 1375.1 L2121.1 1374.3 L2122.0 1373.5 L2122.7 1372.6 L2123.5 1371.7 L2124.3 1370.7 L2125.1 1369.9 L2125.9 1369.1 L2126.7 1368.3 L2127.6 1367.7 L2128.5 1367.1 L2129.3 1366.5 L2130.2 1365.9 L2131.0 1364.7 L2131.8 1363.6 L2132.6 1362.4 L2133.5 1361.0 L2134.4 1359.6 L2135.2 1358.2 L2136.1 1356.7 L2136.9 1355.8 L2137.7 1354.9 L2138.5 1354.0 L2139.3 1352.8 L2140.1 1351.5 L2140.8 1350.2 L2141.6 1349.4 L2142.4 1348.5 L2143.2 1347.7 L2144.0 1347.1 L2144.8 1346.4 L2145.6 1345.8 L2146.4 1344.8 L2147.1 1343.9 L2147.9 1342.9 L2148.7 1341.9 L2149.5 1341.0 L2150.3 1340.0 L2151.1 1339.4 L2151.9 1338.8 L2152.7 1338.2 L2153.4 1337.4 L2154.2 1336.6 L2155.0 1335.8 L2155.8 1335.0 L2156.6 1334.2 L2157.4 1333.4 L2158.2 1332.7 L2159.0 1332.0 L2159.8 1331.3 L2177.4 1305.2 L2192.9 1283.8 L2212.3 1262.5 L2231.7 1243.0 L2251.1 1221.7 L2266.7 1206.2 L2274.4 1192.6 L2286.1 1177.0 L2301.6 1165.4 L2317.1 1149.9 L2323.0 1138.2 L2332.7 1132.4 L2352.1 1120.8 L2361.8 1107.2 L2371.5 1095.5 L2394.7 1079.3 L2413.7 1060.4 L2429.9 1046.8 L2454.3 1014.3 L2473.3 995.4 L2497.6 954.8 L2532.8 914.2 L2568.0 892.5 L2589.7 870.9 L2608.6 857.3 L2633.0 835.7 L2657.3 818.4 L2684.4 804.3 L2708.8 794.0 L2738.5 775.0 L2768.3 761.5 L2803.5 736.6 L2841.4 707.4 L2884.7 678.7 L2928.0 647.3 L2982.2 620.2 L3037.0 600.4 L3100.8 545.4 L3173.5 503.2 L3249.3 461.5 L3346.8 419.3 L3449.6 369.5 L3568.7 335.4 L3720.3 298.5 L3893.6 254.1" stroke="#0072BD" stroke-width="14"/>
<path d="M1973.2 1498.4 L1973.2 1498.3 L1973.3 1498.3 L1973.3 1498.2 L1973.4 1498.2 L1973.4 1498.1 L1973.5 1498.1 L1973.5 1498.0 L1973.6 1498.0 L1973.6 1497.9 L1973.7 1497.8 L1973.8 1497.8 L1973.9 1497.7 L1973.9 1497.6 L1974.0 1497.5 L1974.1 1497.5 L1974.2 1497.4 L1974.2 1497.3 L1974.3 1497.2 L1974.4 1497.1 L1974.5 1497.0 L1974.6 1496.9 L1974.7 1496.8 L1974.8 1496.8 L1974.9 1496.7 L1975.0 1496.5 L1975.1 1496.4 L1975.3 1496.3 L1975.4 1496.2 L1975.5 1496.1 L1975.6 1496.0 L1975.8 1495.9 L1975.9 1495.8 L1976.1 1495.6 L1976.2 1495.5 L1976.4 1495.4 L1976.5 1495.2 L1976.7 1495.1 L1976.8 1495.0 L1977.0 1494.8 L1977.1 1494.6 L1977.3 1494.5 L1977.6 1494.3 L1977.8 1494.2 L1978.0 1494.0 L1978.2 1493.8 L1978.5 1493.6 L1978.7 1493.4 L1979.0 1493.3 L1979.3 1493.1 L1979.5 1492.8 L1979.8 1492.6 L1980.1 1492.4 L1980.3 1492.2 L1980.6 1492.0 L1980.9 1491.7 L1981.1 1491.5 L1981.4 1491.2 L1981.7 1491.0 L1981.9 1490.7 L1982.2 1490.5 L1982.4 1490.2 L1982.7 1489.9 L1983.0 1489.7 L1983.3 1489.4 L1983.6 1489.1 L1983.9 1488.9 L1984.2 1488.5 L1984.6 1488.2 L1984.9 1487.9 L1985.3 1487.5 L1985.6 1487.2 L1986.0 1486.9 L1986.3 1486.5 L1986.7 1486.2 L1987.1 1485.9 L1987.4 1485.5 L1987.8 1485.2 L1988.1 1484.9 L1988.5 1484.5 L1988.8 1484.2 L1989.2 1483.8 L1989.5 1483.4 L1989.9 1483.1 L1990.2 1482.7 L1990.7 1482.3 L1991.2 1481.9 L1991.7 1481.6 L1992.2 1481.2 L1992.6 1480.7 L1992.9 1480.3 L1993.3 1479.8 L1993.8 1479.2 L1994.3 1478.7 L1994.7 1478.1 L1995.2 1477.5 L1995.7 1476.9 L1996.1 1476.4 L1996.6 1475.8 L1997.1 1475.3 L1997.7 1474.7 L1998.3 1474.0 L1998.9 1473.4 L1999.6 1472.8 L2000.2 1472.1 L2000.8 1471.5 L2001.5 1470.9 L2002.1 1470.3 L2002.7 1469.7 L2003.3 1469.0 L2004.0 1468.3 L2004.6 1467.5 L2005.2 1466.8 L2005.8 1466.1 L2006.5 1465.3 L2007.1 1464.8 L2007.7 1464.2 L2008.3 1463.6 L2009.0 1462.9 L2009.6 1462.2 L2010.2 1461.4 L2011.2 1460.6 L2012.1 1459.8 L2013.0 1459.0 L2014.0 1458.1 L2014.9 1457.2 L2015.9 1456.3 L2016.8 1455.6 L2017.7 1454.8 L2018.7 1453.8 L2019.6 1452.9 L2020.6 1452.2 L2021.5 1451.5 L2022.4 1450.6 L2023.4 1449.7 L2024.0 1448.9 L2024.6 1448.1 L2025.3 1447.3 L2025.9 1446.4 L2026.5 1445.6 L2027.1 1444.7 L2028.1 1443.8 L2029.0 1442.8 L2030.0 1442.3 L2030.9 1441.7 L2031.8 1441.0 L2032.8 1440.3 L2033.7 1439.6 L2034.7 1438.9 L2035.5 1438.4 L2036.4 1437.9 L2037.2 1437.4 L2038.1 1436.3 L2038.9 1435.1 L2039.8 1433.9 L2040.6 1432.8 L2041.4 1431.7 L2042.3 1430.6 L2043.1 1429.3 L2044.0 1428.0 L2044.8 1426.7 L2045.7 1426.0 L2046.5 1425.3 L2047.4 1424.6 L2048.2 1423.6 L2049.1 1422.6 L2049.9 1421.5 L2050.8 1421.0 L2051.6 1420.5 L2052.5 1420.0 L2053.3 1419.1 L2054.1 1418.3 L2055.0 1417.4 L2055.8 1415.8 L2056.7 1414.3 L2057.5 1412.7 L2058.4 1412.2 L2059.2 1411.7 L2060.1 1411.3 L2060.9 1410.8 L2061.8 1410.3 L2062.6 1409.9 L2063.5 1409.0 L2064.3 1408.2 L2065.1 1407.3 L2066.1 1406.5 L2067.1 1405.6 L2068.1 1404.7 L2069.1 1404.2 L2070.0 1403.8 L2071.0 1403.4 L2071.9 1403.0 L2072.7 1401.7 L2073.4 1400.3 L2074.4 1399.9 L2075.4 1399.4 L2076.4 1398.9 L2077.5 1397.5 L2078.5 1397.0 L2079.4 1396.5 L2080.4 1396.1 L2081.3 1395.6 L2082.1 1395.2 L2083.0 1394.8 L2083.8 1394.4 L2084.7 1394.0 L2085.4 1392.7 L2086.2 1391.5 L2087.1 1390.8 L2088.1 1390.0 L2089.0 1389.3 L2089.9 1388.5 L2091.1 1388.1 L2092.2 1387.6 L2093.3 1386.7 L2094.3 1386.1 L2095.3 1385.5 L2096.3 1384.9 L2097.5 1383.6 L2098.3 1383.1 L2099.2 1382.7 L2100.1 1382.2 L2101.0 1381.7 L2102.0 1381.2 L2102.9 1380.6 L2103.8 1380.1 L2104.8 1379.8 L2105.7 1379.4 L2106.7 1379.1 L2107.6 1378.7 L2108.6 1378.3 L2109.5 1378.0 L2110.4 1377.6 L2111.4 1377.3 L2112.3 1376.2 L2113.3 1375.1 L2114.2 1374.7 L2115.1 1374.4 L2116.1 1373.4 L2117.0 1372.4 L2117.9 1372.1 L2118.8 1371.7 L2119.6 1371.4 L2120.4 1369.5 L2121.1 1367.6 L2122.0 1367.1 L2122.7 1365.8 L2123.5 1364.5 L2124.3 1363.2 L2125.1 1362.8 L2125.9 1362.5 L2126.7 1362.2 L2127.6 1362.1 L2128.5 1361.9 L2129.3 1361.8 L2130.2 1361.7 L2131.0 1361.4 L2131.8 1361.1 L2132.6 1360.9 L2133.4 1360.1 L2134.2 1359.3 L2135.3 1358.6 L2136.3 1357.8 L2137.3 1357.0 L2138.2 1356.7 L2139.1 1356.4 L2140.0 1356.0 L2140.8 1355.7 L2141.6 1355.5 L2142.4 1355.3 L2143.2 1355.1 L2144.3 1355.0 L2145.3 1354.9 L2146.2 1353.4 L2147.0 1351.9 L2147.8 1351.3 L2148.6 1350.7 L2149.5 1350.1 L2150.3 1349.5 L2151.1 1348.6 L2151.9 1347.8 L2152.7 1346.9 L2153.6 1346.0 L2154.5 1345.2 L2155.5 1345.0 L2156.4 1344.8 L2157.4 1344.6 L2158.2 1344.5 L2159.0 1344.5 L2159.8 1344.4 L2177.4 1334.3 L2192.9 1328.4 L2208.4 1326.5 L2231.7 1316.8 L2243.4 1303.2 L2258.9 1298.2 L2274.4 1293.5 L2290.0 1278.0 L2305.5 1274.1 L2317.1 1260.5 L2326.8 1248.9 L2344.3 1245.0 L2359.8 1225.6 L2369.5 1217.8 L2394.8 1213.9 L2437.5 1210.0 L2453.0 1202.3 L2472.4 1195.7 L2487.9 1177.0 L2519.0 1176.3 L2542.3 1167.3 L2569.5 1157.6 L2588.9 1147.9 L2612.2 1128.5 L2654.9 1125.8 L2682.0 1109.1 L2709.2 1108.0 L2736.4 1103.3 L2765.6 1093.0 L2803.5 1083.1 L2884.7 1078.2 L2928.0 1070.1 L2981.4 1020.1 L3037.0 991.4 L3100.5 948.1 L3172.2 924.0 L3245.0 919.7 L3343.4 910.5 L3443.5 886.2 L3573.5 853.7 L3719.7 800.6 L3893.6 776.6" stroke="#D95319" stroke-width="14"/>
<path d="M1969.7 1498.4 L1969.8 1498.3 L1969.8 1498.3 L1969.8 1498.2 L1969.8 1498.2 L1969.9 1498.1 L1969.9 1498.1 L1969.9 1498.0 L1969.9 1497.9 L1970.0 1497.9 L1970.0 1497.8 L1970.1 1497.8 L1970.1 1497.7 L1970.2 1497.6 L1970.2 1497.5 L1970.3 1497.5 L1970.3 1497.4 L1970.4 1497.3 L1970.4 1497.2 L1970.5 1497.1 L1970.6 1497.1 L1970.6 1497.0 L1970.7 1496.9 L1970.8 1496.8 L1970.8 1496.7 L1970.9 1496.6 L1971.0 1496.5 L1971.1 1496.4 L1971.2 1496.2 L1971.2 1496.1 L1971.3 1496.0 L1971.4 1495.9 L1971.5 1495.8 L1971.6 1495.6 L1971.7 1495.5 L1971.9 1495.4 L1972.0 1495.2 L1972.1 1495.1 L1972.2 1494.9 L1972.3 1494.8 L1972.5 1494.7 L1972.6 1494.5 L1972.8 1494.4 L1973.0 1494.2 L1973.3 1494.0 L1973.6 1493.7 L1973.8 1493.6 L1973.9 1493.4 L1974.1 1493.2 L1974.3 1493.0 L1974.5 1492.8 L1974.7 1492.6 L1974.8 1492.4 L1975.0 1492.2 L1975.2 1492.0 L1975.4 1491.8 L1975.5 1491.6 L1975.8 1491.4 L1976.0 1491.2 L1976.3 1490.9 L1976.5 1490.7 L1976.8 1490.4 L1977.1 1490.2 L1977.3 1489.9 L1977.6 1489.7 L1977.9 1489.4 L1978.2 1489.1 L1978.6 1488.8 L1978.9 1488.6 L1979.3 1488.3 L1979.6 1488.0 L1980.0 1487.7 L1980.3 1487.4 L1980.7 1487.1 L1981.0 1486.8 L1981.4 1486.5 L1981.7 1486.2 L1982.2 1485.8 L1982.6 1485.5 L1983.1 1485.1 L1983.5 1484.8 L1984.1 1484.4 L1984.7 1484.0 L1985.3 1483.5 L1985.8 1483.2 L1986.4 1482.8 L1986.9 1482.5 L1987.4 1482.1 L1988.0 1481.7 L1988.5 1481.4 L1989.0 1481.0 L1989.6 1480.6 L1990.2 1480.2 L1990.8 1479.7 L1991.4 1479.3 L1992.1 1478.9 L1992.7 1478.5 L1993.3 1478.1 L1993.9 1477.7 L1994.6 1477.2 L1995.2 1476.8 L1995.8 1476.4 L1996.4 1476.0 L1997.1 1475.6 L1997.7 1475.2 L1998.3 1474.8 L1998.9 1474.3 L1999.7 1473.9 L2000.4 1473.5 L2001.2 1473.1 L2002.0 1472.7 L2002.7 1472.3 L2003.5 1471.9 L2004.2 1471.5 L2005.0 1471.2 L2005.7 1470.8 L2006.5 1470.4 L2007.2 1470.1 L2008.0 1469.7 L2008.7 1469.3 L2009.5 1469.0 L2010.2 1468.6 L2011.0 1468.3 L2011.7 1467.9 L2012.5 1467.5 L2013.2 1467.2 L2014.0 1466.8 L2014.7 1466.4 L2015.5 1466.1 L2016.2 1465.7 L2017.0 1465.3 L2017.7 1465.0 L2018.5 1464.5 L2019.2 1464.1 L2020.0 1463.7 L2020.8 1463.3 L2021.5 1462.8 L2022.3 1462.4 L2023.0 1461.9 L2023.8 1461.5 L2024.5 1461.0 L2025.3 1460.6 L2026.0 1460.1 L2026.8 1459.6 L2027.5 1459.1 L2028.3 1458.7 L2029.0 1458.2 L2029.8 1457.7 L2030.5 1457.3 L2031.3 1456.8 L2032.0 1456.4 L2032.8 1455.9 L2033.5 1455.4 L2034.3 1454.9 L2035.0 1454.4 L2035.8 1453.9 L2036.5 1453.4 L2037.3 1452.8 L2038.0 1452.2 L2038.8 1451.5 L2039.5 1450.9 L2040.3 1450.2 L2041.0 1449.7 L2041.8 1449.2 L2042.5 1448.6 L2043.3 1448.1 L2044.0 1447.5 L2044.8 1447.1 L2045.6 1446.6 L2046.3 1446.2 L2047.1 1445.7 L2047.8 1445.3 L2048.6 1444.9 L2049.3 1444.4 L2050.1 1444.0 L2050.8 1443.6 L2051.6 1443.1 L2052.4 1442.7 L2053.2 1442.2 L2054.0 1441.8 L2054.8 1441.3 L2055.6 1440.8 L2056.4 1440.4 L2057.4 1439.8 L2058.3 1439.2 L2059.2 1438.6 L2060.1 1438.1 L2060.8 1437.5 L2061.6 1436.9 L2062.4 1436.3 L2063.1 1435.7 L2063.9 1435.1 L2064.6 1434.5 L2065.4 1433.8 L2066.2 1433.4 L2067.1 1433.0 L2067.9 1432.5 L2068.8 1432.1 L2069.6 1431.6 L2070.5 1431.2 L2071.3 1430.7 L2072.2 1430.3 L2073.1 1429.8 L2074.0 1429.4 L2074.8 1428.9 L2075.7 1428.5 L2076.6 1428.0 L2077.5 1427.5 L2078.4 1427.0 L2079.2 1426.6 L2080.1 1426.1 L2081.0 1425.6 L2081.8 1425.1 L2082.7 1424.6 L2083.5 1423.9 L2084.3 1423.1 L2085.1 1422.3 L2085.9 1421.6 L2086.9 1420.6 L2087.9 1419.6 L2088.9 1419.0 L2089.9 1418.3 L2091.0 1417.7 L2092.0 1417.0 L2093.0 1416.6 L2094.0 1416.1 L2094.8 1415.8 L2095.6 1415.6 L2096.4 1415.3 L2097.2 1415.1 L2098.0 1414.8 L2098.8 1414.5 L2099.6 1414.3 L2100.4 1414.1 L2101.3 1413.8 L2102.1 1413.6 L2102.9 1413.3 L2103.7 1413.1 L2104.5 1412.8 L2105.3 1412.6 L2106.1 1412.3 L2106.9 1412.1 L2107.7 1411.9 L2108.5 1411.6 L2109.2 1411.4 L2110.0 1411.1 L2110.8 1410.9 L2111.7 1410.6 L2112.5 1410.4 L2113.3 1410.1 L2114.1 1409.9 L2114.9 1409.6 L2115.7 1409.4 L2116.6 1409.1 L2117.5 1408.8 L2118.4 1408.5 L2119.3 1408.1 L2120.2 1407.8 L2121.1 1407.5 L2121.9 1407.3 L2122.7 1407.0 L2123.5 1406.8 L2124.3 1406.6 L2125.1 1406.3 L2125.9 1406.1 L2126.7 1405.8 L2127.6 1405.6 L2128.4 1405.4 L2129.2 1405.1 L2130.0 1404.9 L2130.8 1404.6 L2131.7 1404.3 L2132.5 1403.9 L2133.4 1403.6 L2134.2 1403.3 L2135.1 1403.0 L2135.9 1402.7 L2136.8 1402.3 L2137.6 1402.0 L2138.5 1401.7 L2139.3 1401.4 L2140.2 1401.2 L2141.0 1400.9 L2141.9 1400.6 L2142.7 1400.4 L2143.6 1400.1 L2144.4 1399.8 L2145.3 1399.6 L2146.1 1399.3 L2147.0 1399.0 L2147.8 1398.7 L2148.6 1398.3 L2149.4 1397.9 L2150.2 1397.5 L2151.0 1397.1 L2151.9 1396.7 L2152.7 1396.3 L2153.5 1396.0 L2154.2 1395.6 L2155.0 1395.2 L2155.8 1394.9 L2156.6 1394.5 L2157.4 1394.1 L2158.2 1393.8 L2159.0 1393.4 L2159.8 1393.0 L2165.1 1391.5 L2200.5 1377.6 L2233.3 1366.3 L2263.5 1361.2 L2301.4 1356.2 L2351.9 1346.6 L2402.3 1337.2 L2452.8 1330.9 L2503.3 1322.1 L2541.1 1317.8 L2583.2 1312.6 L2607.0 1306.5 L2632.0 1301.3 L2656.0 1297.5 L2680.0 1294.0 L2694.0 1288.0 L2708.5 1280.8 L2730.0 1275.6 L2755.6 1272.0 L2800.0 1265.3 L2825.7 1260.9 L2926.6 1252.1 L3027.6 1244.5 L3128.5 1237.0 L3166.4 1235.7 L3229.4 1226.9 L3305.1 1219.3 L3350.0 1217.2 L3466.5 1213.9 L3571.3 1209.3 L3720.4 1128.9 L3893.6 1121.5" stroke="#EDB120" stroke-width="14"/>
<path d="M1973.5 1493.7 L1973.6 1493.6 L1973.7 1493.6 L1973.8 1493.5 L1973.8 1493.4 L1973.9 1493.3 L1974.0 1493.2 L1974.1 1493.1 L1974.2 1493.1 L1974.2 1493.0 L1974.3 1492.9 L1974.4 1492.8 L1974.5 1492.7 L1974.6 1492.6 L1974.7 1492.5 L1974.7 1492.4 L1974.8 1492.3 L1974.9 1492.2 L1975.0 1492.1 L1975.1 1492.0 L1975.2 1491.9 L1975.3 1491.8 L1975.4 1491.7 L1975.5 1491.6 L1975.5 1491.5 L1975.7 1491.4 L1975.8 1491.3 L1975.9 1491.2 L1976.0 1491.1 L1976.1 1491.0 L1976.2 1490.8 L1976.3 1490.7 L1976.4 1490.6 L1976.6 1490.5 L1976.7 1490.4 L1976.8 1490.2 L1976.9 1490.1 L1977.1 1490.0 L1977.2 1489.9 L1977.3 1489.7 L1977.5 1489.6 L1977.6 1489.5 L1977.8 1489.4 L1977.9 1489.2 L1978.1 1489.1 L1978.2 1488.9 L1978.4 1488.8 L1978.6 1488.7 L1978.7 1488.5 L1978.9 1488.4 L1979.1 1488.2 L1979.3 1488.1 L1979.4 1487.9 L1979.6 1487.8 L1979.8 1487.6 L1980.0 1487.5 L1980.2 1487.3 L1980.3 1487.2 L1980.5 1487.0 L1980.7 1486.9 L1980.9 1486.7 L1981.0 1486.6 L1981.2 1486.4 L1981.4 1486.3 L1981.6 1486.1 L1981.7 1486.0 L1982.0 1485.8 L1982.2 1485.6 L1982.4 1485.4 L1982.6 1485.3 L1982.9 1485.1 L1983.1 1484.9 L1983.3 1484.7 L1983.5 1484.5 L1983.8 1484.4 L1984.0 1484.2 L1984.3 1484.0 L1984.5 1483.8 L1984.8 1483.6 L1985.0 1483.5 L1985.3 1483.3 L1985.6 1483.1 L1985.8 1482.9 L1986.1 1482.7 L1986.4 1482.5 L1986.6 1482.4 L1986.9 1482.2 L1987.2 1482.0 L1987.4 1481.8 L1987.7 1481.6 L1988.0 1481.4 L1988.2 1481.2 L1988.5 1481.1 L1988.8 1480.9 L1989.0 1480.7 L1989.3 1480.5 L1989.6 1480.3 L1989.8 1480.1 L1990.1 1479.9 L1990.4 1479.7 L1990.6 1479.5 L1990.9 1479.3 L1991.2 1479.1 L1991.4 1478.9 L1991.7 1478.8 L1992.0 1478.6 L1992.3 1478.4 L1992.6 1478.2 L1992.9 1478.0 L1993.2 1477.8 L1993.5 1477.6 L1993.7 1477.4 L1994.0 1477.2 L1994.1 1477.2M2018.4 1463.7 L2018.5 1463.7 L2018.9 1463.5 L2019.2 1463.2 L2019.6 1463.0 L2020.0 1462.8 L2020.4 1462.5 L2020.8 1462.3 L2021.1 1462.1 L2021.5 1461.9 L2021.9 1461.6 L2022.3 1461.4 L2022.6 1461.1 L2023.0 1460.9 L2023.4 1460.7 L2023.8 1460.4 L2024.1 1460.2 L2024.5 1459.9 L2024.9 1459.7 L2025.3 1459.5 L2025.6 1459.2 L2026.0 1459.0 L2026.4 1458.7 L2026.8 1458.5 L2027.1 1458.2 L2027.5 1458.0 L2027.9 1457.7 L2028.3 1457.5 L2028.6 1457.2 L2029.0 1456.9 L2029.4 1456.7 L2029.8 1456.5 L2030.1 1456.2 L2030.5 1456.0 L2030.9 1455.8 L2031.3 1455.5 L2031.6 1455.3 L2032.0 1455.1 L2032.4 1454.8 L2032.8 1454.6 L2033.2 1454.3 L2033.5 1454.0 L2033.9 1453.8 L2034.3 1453.5 L2034.7 1453.3 L2035.0 1453.0 L2035.4 1452.7 L2035.8 1452.5 L2036.2 1452.2 L2036.5 1452.0 L2036.9 1451.7 L2037.2 1451.4 L2037.6 1451.1 L2037.9 1450.8 L2038.2 1450.6 L2038.6 1450.3 L2038.9 1450.0 L2039.3 1449.7 L2039.6 1449.4 L2039.9 1449.1 L2040.3 1448.8M2063.5 1433.7 L2063.9 1433.4 L2064.3 1433.1 L2064.6 1432.8 L2065.0 1432.5 L2065.4 1432.2 L2065.8 1432.0 L2066.2 1431.8 L2066.6 1431.6 L2067.0 1431.4 L2067.4 1431.2 L2067.8 1431.0 L2068.2 1430.8 L2068.5 1430.6 L2068.9 1430.4 L2069.3 1430.1 L2069.7 1429.9 L2070.1 1429.7 L2070.5 1429.5 L2070.9 1429.3 L2071.3 1429.0 L2071.7 1428.8 L2072.1 1428.6 L2072.5 1428.4 L2072.9 1428.1 L2073.3 1427.9 L2073.7 1427.7 L2074.2 1427.4 L2074.6 1427.2 L2075.0 1427.0 L2075.4 1426.8 L2075.8 1426.5 L2076.2 1426.3 L2076.6 1426.1 L2077.0 1425.8 L2077.4 1425.6 L2077.8 1425.3 L2078.2 1425.1 L2078.6 1424.8 L2079.0 1424.6 L2079.5 1424.4 L2079.9 1424.1 L2080.3 1423.9 L2080.7 1423.6 L2081.1 1423.4 L2081.5 1423.2 L2081.9 1422.9 L2082.3 1422.7 L2082.7 1422.4 L2083.1 1422.0 L2083.5 1421.6 L2083.9 1421.2 L2084.3 1420.8 L2084.7 1420.4 L2085.1 1420.0 L2085.5 1419.6 L2085.7 1419.4M2111.0 1408.8 L2111.3 1408.7 L2111.7 1408.6 L2112.1 1408.5 L2112.5 1408.3 L2112.9 1408.2 L2113.3 1408.1 L2113.7 1408.0 L2114.1 1407.9 L2114.5 1407.8 L2114.9 1407.7 L2115.3 1407.6 L2115.7 1407.5 L2116.1 1407.4 L2116.5 1407.2 L2117.0 1407.1 L2117.4 1407.0 L2117.8 1406.9 L2118.2 1406.8 L2118.6 1406.6 L2119.0 1406.5 L2119.4 1406.3 L2119.8 1406.1 L2120.3 1406.0 L2120.7 1405.8 L2121.1 1405.6 L2121.5 1405.5 L2121.9 1405.3 L2122.3 1405.2 L2122.7 1405.1 L2123.1 1404.9 L2123.5 1404.8 L2123.9 1404.7 L2124.3 1404.5 L2124.7 1404.4 L2125.1 1404.2 L2125.5 1404.1 L2125.9 1403.9 L2126.3 1403.8 L2126.7 1403.7 L2127.2 1403.5 L2127.6 1403.4 L2128.0 1403.2 L2128.4 1403.1 L2128.8 1403.0 L2129.2 1402.8 L2129.6 1402.7 L2130.0 1402.5 L2130.4 1402.4 L2130.8 1402.2 L2131.2 1402.0 L2131.6 1401.9 L2132.0 1401.7 L2132.4 1401.5 L2132.8 1401.4 L2133.2 1401.2 L2133.6 1401.0 L2134.0 1400.9 L2134.4 1400.7 L2134.8 1400.5 L2135.3 1400.4 L2135.7 1400.2 L2136.0 1400.1M2161.4 1389.4 L2165.1 1389.5 L2186.3 1381.0M2212.3 1371.1 L2233.3 1363.7 L2237.4 1363.0M2264.8 1358.2 L2276.2 1356.2 L2290.9 1353.7M2318.3 1348.9 L2331.7 1346.6 L2344.4 1344.5M2371.9 1340.1 L2384.7 1338.0 L2398.0 1335.9M2425.5 1331.6 L2437.7 1329.7 L2451.6 1327.1M2478.9 1322.0 L2491.9 1319.6 L2505.1 1318.0M2532.7 1314.7 L2544.9 1313.3 L2558.9 1310.8M2585.8 1304.0 L2597.9 1299.4 L2611.1 1296.5M2638.3 1290.9 L2650.9 1288.5 L2663.9 1284.1M2690.3 1275.3 L2708.9 1267.9 L2715.3 1267.6M2743.0 1266.4 L2757.6 1263.5 L2769.1 1262.1M2796.7 1258.7 L2809.3 1257.1 L2823.1 1256.0M2850.8 1253.9 L2863.5 1252.9 L2877.2 1251.4M2904.8 1248.5 L2917.8 1247.1 L2931.2 1246.0M2958.9 1243.8 L2972.0 1242.8 L2985.3 1241.8M3013.0 1239.6 L3025.0 1238.7 L3039.5 1237.6M3067.2 1235.4 L3079.3 1234.4 L3093.6 1233.1M3121.3 1230.5 L3133.5 1229.4 L3147.6 1228.1M3175.3 1225.5 L3187.8 1224.3 L3201.7 1222.8M3229.3 1219.9 L3242.0 1218.5 L3255.7 1217.1M3283.3 1214.3 L3296.3 1213.0 L3309.7 1211.8M3337.4 1209.2 L3350.0 1208.1 L3363.8 1206.6M3391.4 1203.6 L3403.6 1202.3 L3417.7 1200.5M3445.1 1195.7 L3457.1 1193.0 L3470.4 1188.1M3496.5 1178.6 L3508.4 1174.3 L3521.3 1169.3M3547.3 1159.3 L3559.6 1154.5 L3572.4 1151.0M3599.2 1143.6 L3612.1 1140.1 L3624.9 1137.3M3652.1 1131.3 L3664.5 1128.5 L3677.9 1125.3M3705.0 1118.9 L3716.9 1116.1 L3731.1 1114.9M3758.8 1112.5 L3771.6 1111.4 L3785.2 1110.4M3812.9 1108.4 L3825.2 1107.5 L3839.3 1106.2M3867.0 1103.5 L3893.4 1101.0" stroke="#000" stroke-width="7.5"/>
<path d="M1987.9 1482.4 L1988.0 1482.4 L1988.2 1482.2 L1988.5 1482.0 L1988.8 1481.8 L1989.0 1481.7 L1989.3 1481.5 L1989.6 1481.3 L1989.8 1481.1 L1990.1 1480.9 L1990.4 1480.8 L1990.6 1480.6 L1990.9 1480.4 L1991.2 1480.2 L1991.4 1480.0 L1991.7 1479.9 L1992.0 1479.7 L1992.3 1479.5 L1992.6 1479.3 L1992.9 1479.1 L1993.2 1479.0 L1993.5 1478.8 L1993.7 1478.6 L1994.0 1478.4 L1994.3 1478.2 L1994.6 1478.0 L1994.9 1477.8 L1995.2 1477.6 L1995.5 1477.5 L1995.8 1477.3 L1996.1 1477.1 L1996.4 1476.9 L1996.8 1476.7 L1997.1 1476.5 L1997.4 1476.3 L1997.7 1476.1 L1998.0 1475.9 L1998.3 1475.7 L1998.6 1475.5 L1998.9 1475.3 L1999.3 1475.1 L1999.6 1474.9 L2000.0 1474.7 L2000.3 1474.5 L2000.7 1474.4 L2001.0 1474.2 L2001.3 1474.0 L2001.7 1473.8 L2002.0 1473.6 L2002.4 1473.4 L2002.7 1473.3 L2003.1 1473.1 L2003.5 1472.9 L2003.8 1472.7 L2004.2 1472.5 L2004.6 1472.4 L2005.0 1472.2 L2005.3 1472.0 L2005.7 1471.8 L2006.1 1471.6 L2006.5 1471.4 L2006.8 1471.3 L2007.2 1471.1 L2007.6 1470.9 L2008.0 1470.8 L2008.3 1470.6 L2008.7 1470.4 L2009.1 1470.2 L2009.5 1470.1 L2009.8 1469.9 L2010.2 1469.7 L2010.6 1469.5 L2010.9 1469.4M2035.2 1455.9 L2035.4 1455.8 L2035.8 1455.6 L2036.2 1455.3 L2036.5 1455.1 L2036.9 1454.8 L2037.2 1454.6 L2037.6 1454.3 L2037.9 1454.0 L2038.2 1453.8 L2038.6 1453.5 L2038.9 1453.2 L2039.3 1452.9 L2039.6 1452.7 L2039.9 1452.4 L2040.3 1452.1 L2040.7 1451.9 L2041.0 1451.6 L2041.4 1451.4 L2041.8 1451.1 L2042.2 1450.8 L2042.5 1450.6 L2042.9 1450.3 L2043.3 1450.0 L2043.7 1449.7 L2044.0 1449.5 L2044.4 1449.2 L2044.8 1449.0 L2045.2 1448.8 L2045.6 1448.6 L2045.9 1448.4 L2046.3 1448.2 L2046.7 1447.9 L2047.1 1447.7 L2047.4 1447.5 L2047.8 1447.3 L2048.2 1447.1 L2048.6 1446.9 L2048.9 1446.7 L2049.3 1446.5 L2049.7 1446.3 L2050.1 1446.1 L2050.4 1445.9 L2050.8 1445.7 L2051.2 1445.5 L2051.6 1445.3 L2051.9 1445.1 L2052.3 1444.9 L2052.7 1444.7 L2053.1 1444.5 L2053.4 1444.3 L2053.8 1444.2 L2054.2 1444.0 L2054.6 1443.8 L2054.9 1443.6 L2055.3 1443.4 L2055.7 1443.2 L2056.1 1443.0 L2056.4 1442.8 L2056.9 1442.6 L2057.3 1442.4 L2057.7 1442.1 L2057.7 1442.1M2081.7 1428.4 L2081.9 1428.3 L2082.3 1428.1 L2082.7 1427.9 L2083.1 1427.6 L2083.5 1427.3 L2083.9 1426.9 L2084.3 1426.6 L2084.7 1426.2 L2085.1 1425.9 L2085.5 1425.6 L2085.9 1425.2 L2086.3 1424.9 L2086.7 1424.5 L2087.1 1424.2 L2087.5 1423.8 L2087.9 1423.5 L2088.3 1423.2 L2088.7 1423.0 L2089.1 1422.7 L2089.5 1422.5 L2089.9 1422.2 L2090.3 1422.0 L2090.8 1421.6 L2091.2 1421.2 L2091.6 1420.9 L2092.0 1420.5 L2092.4 1420.2 L2092.8 1419.9 L2093.2 1419.6 L2093.6 1419.3 L2094.0 1419.0 L2094.4 1418.8 L2094.8 1418.5 L2095.2 1418.3 L2095.6 1418.0 L2096.0 1417.8 L2096.4 1417.7 L2096.8 1417.5 L2097.2 1417.4 L2097.6 1417.2 L2098.0 1417.1 L2098.4 1416.9 L2098.8 1416.8 L2099.2 1416.7 L2099.6 1416.5 L2100.0 1416.4 L2100.4 1416.3 L2100.9 1416.1 L2101.3 1416.0 L2101.7 1415.8 L2102.1 1415.7 L2102.5 1415.6 L2102.9 1415.5 L2103.3 1415.4 L2103.7 1415.3 L2104.1 1415.2 L2104.3 1415.1M2130.8 1407.2 L2131.2 1407.0 L2131.6 1406.9 L2132.0 1406.8 L2132.4 1406.6 L2132.8 1406.5 L2133.2 1406.4 L2133.6 1406.2 L2134.0 1406.1 L2134.4 1406.0 L2134.8 1405.8 L2135.3 1405.7 L2135.7 1405.5 L2136.1 1405.4 L2136.5 1405.3 L2136.9 1405.1 L2137.3 1405.0 L2137.7 1404.8 L2138.1 1404.7 L2138.5 1404.6 L2138.9 1404.5 L2139.3 1404.3 L2139.7 1404.2 L2140.1 1404.1 L2140.5 1404.0 L2140.9 1403.9 L2141.3 1403.8 L2141.7 1403.7 L2142.1 1403.6 L2142.5 1403.4 L2142.9 1403.3 L2143.3 1403.2 L2143.7 1403.1 L2144.2 1403.0 L2144.6 1402.9 L2145.0 1402.8 L2145.4 1402.7 L2145.8 1402.6 L2146.2 1402.4 L2146.6 1402.3 L2147.0 1402.2 L2147.4 1402.1 L2147.8 1401.9 L2148.2 1401.7 L2148.6 1401.6 L2149.0 1401.4 L2149.4 1401.2 L2149.8 1401.1 L2150.2 1400.9 L2150.6 1400.8 L2151.0 1400.6 L2151.4 1400.4 L2151.9 1400.3 L2152.3 1400.1 L2152.7 1399.9 L2153.1 1399.8 L2153.5 1399.6 L2153.8 1399.5 L2154.2 1399.3 L2154.6 1399.2 L2155.0 1399.0 L2155.4 1398.9 L2155.8 1398.7 L2155.9 1398.7M2181.9 1388.9 L2192.9 1385.2 L2207.2 1381.1M2233.9 1373.4 L2245.9 1370.0 L2259.8 1368.0M2287.3 1364.1 L2298.9 1362.5 L2313.4 1359.7M2340.8 1354.5 L2351.9 1352.4 L2366.9 1350.3M2394.4 1346.4 L2406.1 1344.8 L2420.7 1343.2M2448.4 1340.3 L2460.4 1339.0 L2474.6 1336.6M2502.0 1332.0 L2515.9 1329.7 L2528.3 1328.8M2556.0 1326.8 L2567.6 1325.9 L2582.5 1326.0M2609.9 1322.0 L2621.9 1319.6 L2635.8 1316.3M2662.8 1309.9 L2674.9 1307.0 L2688.9 1308.1M2714.3 1298.4 L2725.3 1290.6 L2735.1 1282.0M2762.6 1278.9 L2775.2 1278.1 L2789.0 1276.3M2816.5 1272.8 L2830.7 1271.0 L2842.9 1270.0M2870.6 1267.8 L2885.0 1266.7 L2897.0 1265.9M2924.8 1264.0 L2939.3 1263.0 L2951.2 1262.0M2978.9 1259.6 L2992.2 1258.4 L3005.3 1257.5M3033.0 1255.5 L3046.5 1254.6 L3059.5 1253.7M3087.2 1251.8 L3102.0 1250.8 L3113.6 1250.3M3141.4 1249.0 L3156.3 1248.3 L3167.9 1247.9M3195.7 1246.8 L3210.5 1246.3 L3222.1 1245.4M3249.8 1243.2 L3264.8 1242.0 L3276.2 1240.9M3303.9 1238.4 L3319.0 1237.0 L3330.3 1236.2M3358.1 1234.3 L3372.1 1233.3 L3384.5 1233.0M3412.3 1232.3 L3426.9 1231.9 L3438.8 1232.1M3466.6 1233.4 L3480.4 1235.6 L3492.8 1237.2M3520.3 1240.8 L3534.0 1242.6 L3546.6 1244.2M3574.2 1246.2 L3585.3 1238.4 L3595.8 1230.9M3618.5 1214.8 L3629.5 1207.0 L3639.9 1199.3M3662.3 1182.8 L3673.8 1174.3 L3683.6 1167.0M3706.0 1150.5 L3718.0 1141.7 L3729.6 1140.9M3757.3 1139.1 L3771.6 1138.2 L3783.8 1137.8M3811.6 1137.0 L3825.2 1136.6 L3838.1 1136.2M3865.8 1135.5 L3892.3 1134.7" stroke="#000" stroke-width="7.5"/>
</g>
<path d="M763 0H583V1147Q518 1085 412.5 1023Q307 961 223 930V1104Q374 1175 487 1276Q600 1377 647 1472H763Z" fill="#262626" transform="translate(2102.64 1586.30) scale(0.03312 -0.03247)"/>
<text transform="translate(2140.36 1586.30) scale(1.0200 1.0300)" font-size="66.5" text-anchor="start" fill="#262626">0</text>
<text transform="translate(2178.09 1586.30) scale(1.0200 1.0300)" font-size="66.5" text-anchor="start" fill="#262626">0</text>
<text transform="translate(2295.29 1586.30) scale(1.0200 1.0300)" font-size="66.5" text-anchor="start" fill="#262626">2</text>
<text transform="translate(2333.02 1586.30) scale(1.0200 1.0300)" font-size="66.5" text-anchor="start" fill="#262626">0</text>
<text transform="translate(2370.74 1586.30) scale(1.0200 1.0300)" font-size="66.5" text-anchor="start" fill="#262626">0</text>
<text transform="translate(2487.94 1586.30) scale(1.0200 1.0300)" font-size="66.5" text-anchor="start" fill="#262626">3</text>
<text transform="translate(2525.67 1586.30) scale(1.0200 1.0300)" font-size="66.5" text-anchor="start" fill="#262626">0</text>
<text transform="translate(2563.39 1586.30) scale(1.0200 1.0300)" font-size="66.5" text-anchor="start" fill="#262626">0</text>
<text transform="translate(2680.59 1586.30) scale(1.0200 1.0300)" font-size="66.5" text-anchor="start" fill="#262626">4</text>
<text transform="translate(2718.32 1586.30) scale(1.0200 1.0300)" font-size="66.5" text-anchor="start" fill="#262626">0</text>
<text transform="translate(2756.05 1586.30) scale(1.0200 1.0300)" font-size="66.5" text-anchor="start" fill="#262626">0</text>
<text transform="translate(2873.25 1586.30) scale(1.0200 1.0300)" font-size="66.5" text-anchor="start" fill="#262626">5</text>
<text transform="translate(2910.97 1586.30) scale(1.0200 1.0300)" font-size="66.5" text-anchor="start" fill="#262626">0</text>
<text transform="translate(2948.70 1586.30) scale(1.0200 1.0300)" font-size="66.5" text-anchor="start" fill="#262626">0</text>
<text transform="translate(3065.90 1586.30) scale(1.0200 1.0300)" font-size="66.5" text-anchor="start" fill="#262626">6</text>
<text transform="translate(3103.63 1586.30) scale(1.0200 1.0300)" font-size="66.5" text-anchor="start" fill="#262626">0</text>
<text transform="translate(3141.35 1586.30) scale(1.0200 1.0300)" font-size="66.5" text-anchor="start" fill="#262626">0</text>
<text transform="translate(3258.55 1586.30) scale(1.0200 1.0300)" font-size="66.5" text-anchor="start" fill="#262626">7</text>
<text transform="translate(3296.28 1586.30) scale(1.0200 1.0300)" font-size="66.5" text-anchor="start" fill="#262626">0</text>
<text transform="translate(3334.01 1586.30) scale(1.0200 1.0300)" font-size="66.5" text-anchor="start" fill="#262626">0</text>
<text transform="translate(3451.20 1586.30) scale(1.0200 1.0300)" font-size="66.5" text-anchor="start" fill="#262626">8</text>
<text transform="translate(3488.93 1586.30) scale(1.0200 1.0300)" font-size="66.5" text-anchor="start" fill="#262626">0</text>
<text transform="translate(3526.66 1586.30) scale(1.0200 1.0300)" font-size="66.5" text-anchor="start" fill="#262626">0</text>
<text transform="translate(3643.86 1586.30) scale(1.0200 1.0300)" font-size="66.5" text-anchor="start" fill="#262626">9</text>
<text transform="translate(3681.58 1586.30) scale(1.0200 1.0300)" font-size="66.5" text-anchor="start" fill="#262626">0</text>
<text transform="translate(3719.31 1586.30) scale(1.0200 1.0300)" font-size="66.5" text-anchor="start" fill="#262626">0</text>
<path d="M763 0H583V1147Q518 1085 412.5 1023Q307 961 223 930V1104Q374 1175 487 1276Q600 1377 647 1472H763Z" fill="#262626" transform="translate(3817.25 1586.30) scale(0.03312 -0.03247)"/>
<text transform="translate(3854.97 1586.30) scale(1.0200 1.0300)" font-size="66.5" text-anchor="start" fill="#262626">0</text>
<text transform="translate(3892.70 1586.30) scale(1.0200 1.0300)" font-size="66.5" text-anchor="start" fill="#262626">0</text>
<text transform="translate(3930.43 1586.30) scale(1.0200 1.0300)" font-size="66.5" text-anchor="start" fill="#262626">0</text>
<path d="M763 0H583V1147Q518 1085 412.5 1023Q307 961 223 930V1104Q374 1175 487 1276Q600 1377 647 1472H763Z" fill="#262626" transform="translate(1911.51 1327.53) scale(0.03247 -0.03247)"/>
<text transform="translate(1911.51 1128.48) scale(1.0000 1.0300)" font-size="66.5" text-anchor="start" fill="#262626">2</text>
<text transform="translate(1911.51 929.42) scale(1.0000 1.0300)" font-size="66.5" text-anchor="start" fill="#262626">3</text>
<text transform="translate(1911.51 730.37) scale(1.0000 1.0300)" font-size="66.5" text-anchor="start" fill="#262626">4</text>
<text transform="translate(1911.51 531.31) scale(1.0000 1.0300)" font-size="66.5" text-anchor="start" fill="#262626">5</text>
<text transform="translate(1911.51 332.26) scale(1.0000 1.0300)" font-size="66.5" text-anchor="start" fill="#262626">6</text>
<text transform="translate(1911.51 133.20) scale(1.0000 1.0300)" font-size="66.5" text-anchor="start" fill="#262626">7</text>
<path d="M1979 58.7L2010.1 89.4M2010.1 58.7L1979 89.4" stroke="#262626" stroke-width="2.8" stroke-linecap="round" fill="none"/>
<path d="M763 0H583V1147Q518 1085 412.5 1023Q307 961 223 930V1104Q374 1175 487 1276Q600 1377 647 1472H763Z" fill="#262626" transform="translate(2021.30 91.50) scale(0.03320 -0.03320)"/>
<text transform="translate(2059.12 91.50) scale(1.0000 1.0350)" font-size="68.0" text-anchor="start" fill="#262626">0</text>
<text transform="translate(2097.00 57.30) scale(1.0000 1.0300)" font-size="53.0" text-anchor="start" fill="#262626">8</text>
<text transform="translate(2932.00 1678.90)" font-size="75.4" text-anchor="middle" fill="#262626">Return period (years)</text>
<text transform="translate(1884.50 751.20) rotate(-90)" font-size="73.4" text-anchor="middle" fill="#262626">Economic damage (EUR)</text>
<path d="M2013.3 178.2H2098.7" stroke="#0072BD" stroke-width="14" fill="none"/>
<text transform="translate(2105.00 201.60)" font-size="61.4" text-anchor="start" fill="#000">Complete dependence</text>
<path d="M2013.3 255.8H2098.7" stroke="#D95319" stroke-width="14" fill="none"/>
<text transform="translate(2105.00 279.50)" font-size="61.4" text-anchor="start" fill="#000">Modelled dependence</text>
<path d="M2013.3 333.7H2098.7" stroke="#EDB120" stroke-width="14" fill="none"/>
<text transform="translate(2105.00 357.10)" font-size="61.4" text-anchor="start" fill="#000">Independence</text>
<path d="M2013.3 411.3H2041.5M2067.4 411.3H2097.2" stroke="#000" stroke-width="8.7" fill="none"/>
<text transform="translate(2105.00 435.70)" font-size="61.4" text-anchor="start" fill="#000">95% of confidence interval</text>
<rect x="1976.3" y="1303.7" width="184.5" height="191.3" fill="none" stroke="#000" stroke-width="9"/>
<path d="M1972 1411.5L1806 1376.2" stroke="#000" stroke-width="8.7" fill="none"/>
<path d="M1786 1372L1825.8 1357.2L1808 1376.6L1816.4 1400.7Z" fill="#000"/>
</svg></body></html>
